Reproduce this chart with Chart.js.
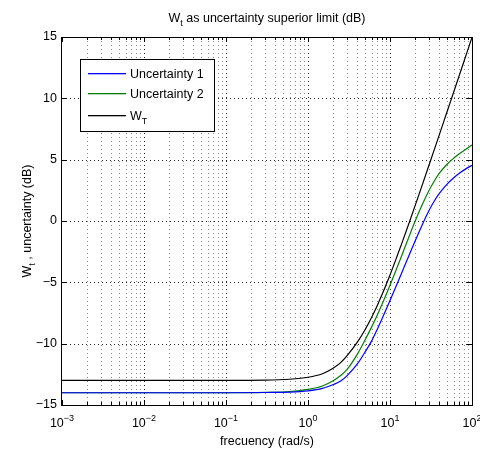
<!DOCTYPE html>
<html>
<head>
<meta charset="utf-8">
<script src="https://cdn.jsdelivr.net/npm/chart.js@4"></script>
<style>
  html, body { margin: 0; padding: 0; background: #fff; }
</style>
</head>
<body>
<canvas id="myChart" width="480" height="453"></canvas>
<script>
const freq = [0.001, 0.01, 0.1, 0.3, 0.6, 1, 1.5, 2, 2.5, 3, 4, 5, 6, 7, 8, 10, 12, 14, 17, 20, 25, 30, 35, 40, 50, 60, 70, 85, 100];
// magnitudes in dB
const uncert1 = [-14.0, -14.0, -14.0, -13.98, -13.95, -13.85, -13.65, -13.35, -13.05, -12.6, -11.65, -10.65, -9.75, -8.82, -7.96, -6.49, -5.24, -4.17, -2.83, -1.71, -0.24, 0.87, 1.67, 2.25, 3.03, 3.53, 3.89, 4.27, 4.54];
const uncert2 = [-14.0, -14.0, -14.0, -13.97, -13.9, -13.73, -13.45, -13.05, -12.6, -12.1, -10.85, -9.66, -8.61, -7.66, -6.79, -5.24, -3.91, -2.77, -1.3, -0.1, 1.4, 2.5, 3.3, 3.9, 4.65, 5.13, 5.48, 5.87, 6.2];
const wT = [-13.0, -13.0, -13.0, -12.98, -12.9, -12.74, -12.45, -12.03, -11.55, -10.98, -9.88, -8.82, -7.82, -6.88, -6.0, -4.4, -3.0, -1.78, -0.2, 1.15, 3.03, 4.58, 5.9, 7.04, 8.97, 10.54, 11.87, 13.56, 14.97];

// ticks
const xDecades = [0.001, 0.01, 0.1, 1, 10, 100];
const xDecadeExp = ['\u22123', '\u22122', '\u22121', '0', '1', '2'];
const yTicks = [-15, -10, -5, 0, 5, 10, 15];

const seriesNames = ['Uncertainty 1', 'Uncertainty 2', 'W'];
const seriesColors = ['rgb(0, 0, 255)', 'rgb(0, 128, 0)', 'rgb(0, 0, 0)'];

const FONT = '"Liberation Sans", Arial, Helvetica, sans-serif';
const FS = 12.5;    // font principale
const FS_SMALL = 9; // pedici / esponenti

function punti(ys) {
  return freq.map((f, i) => ({ x: f, y: ys[i] }));
}

// posizioni griglia minore: 1..9 per ogni decade
const xGrid = [];
for (let d = 0; d < xDecades.length - 1; d++) {
  for (let k = 1; k <= 9; k++) xGrid.push({ v: k * xDecades[d], major: k === 1 });
}
xGrid.push({ v: 100, major: true });

// testo con pedice: main + sub (abbassato) + rest
function drawSub(ctx, x, y, main, sub, rest, align) {
  ctx.font = FS + 'px ' + FONT;
  const w1 = ctx.measureText(main).width;
  const w3 = ctx.measureText(rest).width;
  ctx.font = FS_SMALL + 'px ' + FONT;
  const w2 = ctx.measureText(sub).width;
  let x0 = x;
  if (align === 'center') x0 = x - (w1 + w2 + w3) / 2;
  ctx.textAlign = 'left';
  ctx.textBaseline = 'alphabetic';
  ctx.font = FS + 'px ' + FONT;
  ctx.fillText(main, x0, y);
  ctx.font = FS_SMALL + 'px ' + FONT;
  ctx.fillText(sub, x0 + w1, y + 4);
  ctx.font = FS + 'px ' + FONT;
  ctx.fillText(rest, x0 + w1 + w2, y);
}

const matlabLook = {
  id: 'matlabLook',
  beforeDatasetsDraw(chart) {
    const { ctx, chartArea: a, scales: { x, y } } = chart;
    ctx.save();
    ctx.lineWidth = 1;
    ctx.setLineDash([1, 3]);
    xGrid.forEach(g => {
      const px = Math.round(x.getPixelForValue(g.v)) + 0.5;
      if (px <= a.left + 1 || px >= a.right - 1) return;
      ctx.strokeStyle = g.major ? '#222' : '#888';
      ctx.beginPath();
      ctx.moveTo(px, a.top);
      ctx.lineTo(px, a.bottom);
      ctx.stroke();
    });
    yTicks.slice(1, -1).forEach(v => {
      const py = Math.round(y.getPixelForValue(v)) + 0.5;
      ctx.strokeStyle = '#222';
      ctx.beginPath();
      ctx.moveTo(a.left, py);
      ctx.lineTo(a.right, py);
      ctx.stroke();
    });
    ctx.restore();
  },
  afterDatasetsDraw(chart) {
    const { ctx, chartArea: a, scales: { x, y } } = chart;
    ctx.save();
    ctx.setLineDash([]);
    ctx.strokeStyle = '#000';
    ctx.lineWidth = 1;
    // ticks interni
    xGrid.forEach(g => {
      const px = Math.round(x.getPixelForValue(g.v)) + 0.5;
      const len = g.major ? 5 : 3;
      ctx.beginPath();
      ctx.moveTo(px, a.bottom);
      ctx.lineTo(px, a.bottom - len);
      ctx.moveTo(px, a.top);
      ctx.lineTo(px, a.top + len);
      ctx.stroke();
    });
    yTicks.forEach(v => {
      const py = Math.round(y.getPixelForValue(v)) + 0.5;
      ctx.beginPath();
      ctx.moveTo(a.left, py);
      ctx.lineTo(a.left + 5, py);
      ctx.moveTo(a.right, py);
      ctx.lineTo(a.right - 5, py);
      ctx.stroke();
    });
    // box
    ctx.strokeRect(a.left - 0.5, a.top + 0.5, a.right - a.left + 1, a.bottom - a.top);
    ctx.restore();
  },
  afterDraw(chart) {
    const { ctx, chartArea: a, scales: { x } } = chart;
    ctx.save();

    // legenda
    const lx = a.left + 19, ly = a.top + 22, lw = 134, lh = 72;
    ctx.fillStyle = '#fff';
    ctx.fillRect(lx, ly, lw, lh);
    ctx.lineWidth = 1;
    ctx.strokeStyle = '#000';
    ctx.strokeRect(lx - 0.5, ly + 0.5, lw, lh);
    const rows = [13.7, 34.3, 56];
    rows.forEach((r, i) => {
      const cy = Math.round(ly + r);
      ctx.fillStyle = seriesColors[i];
      ctx.fillRect(lx + 7, cy, 38, 1.3);
      ctx.fillStyle = '#000';
      if (i < 2) {
        ctx.font = FS + 'px ' + FONT;
        ctx.textAlign = 'left';
        ctx.textBaseline = 'alphabetic';
        ctx.fillText(seriesNames[i], lx + 49, cy + 5);
      } else {
        drawSub(ctx, lx + 49, cy + 5, seriesNames[i], 'T', '', 'left');
      }
    });

    ctx.fillStyle = '#000';
    const cx = (a.left + a.right) / 2;
    // titolo
    drawSub(ctx, cx, 22, 'W', 't', ' as uncertainty superior limit (dB)', 'center');
    // etichette asse x 10^n
    xDecades.forEach((v, i) => {
      const px = x.getPixelForValue(v);
      ctx.font = FS + 'px ' + FONT;
      const w1 = ctx.measureText('10').width;
      ctx.font = FS_SMALL + 'px ' + FONT;
      const w2 = ctx.measureText(xDecadeExp[i]).width;
      const x0 = px - (w1 + w2) / 2;
      ctx.textAlign = 'left';
      ctx.textBaseline = 'alphabetic';
      ctx.font = FS + 'px ' + FONT;
      ctx.fillText('10', x0, 427);
      ctx.font = FS_SMALL + 'px ' + FONT;
      ctx.fillText(xDecadeExp[i], x0 + w1, 421);
    });
    // titolo asse x
    ctx.font = FS + 'px ' + FONT;
    ctx.textAlign = 'center';
    ctx.fillText('frecuency (rad/s)', cx, 445);
    // titolo asse y (ruotato)
    ctx.translate(31, (a.top + a.bottom) / 2);
    ctx.rotate(-Math.PI / 2);
    drawSub(ctx, 0, 0, 'W', 't', ' , uncertainty (dB)', 'center');
    ctx.restore();
  }
};

new Chart('myChart', {
  type: 'line',
  data: {
    datasets: [
      { label: 'Uncertainty 1', data: punti(uncert1), borderColor: seriesColors[0] },
      { label: 'Uncertainty 2', data: punti(uncert2), borderColor: seriesColors[1] },
      { label: 'WT', data: punti(wT), borderColor: seriesColors[2] }
    ].map(d => Object.assign(d, { borderWidth: 1.2, pointRadius: 0, fill: false, cubicInterpolationMode: 'monotone' }))
  },
  options: {
    responsive: false,
    animation: false,
    devicePixelRatio: 1,
    layout: { padding: { top: 37, right: 8, left: 0, bottom: 0 } },
    plugins: { legend: { display: false }, title: { display: false }, tooltip: { enabled: false } },
    scales: {
      x: {
        type: 'logarithmic',
        min: 0.001,
        max: 100,
        ticks: { display: false },
        grid: { display: false },
        border: { display: false },
        afterFit(s) { s.height = 48; }
      },
      y: {
        type: 'linear',
        min: -15,
        max: 15,
        afterBuildTicks(s) { s.ticks = yTicks.map(v => ({ value: v })); },
        ticks: {
          color: '#000',
          padding: 5,
          font: { family: FONT, size: FS },
          callback: v => (v < 0 ? '\u2212' + (-v) : '' + v)
        },
        grid: { display: false, drawTicks: false },
        border: { display: false },
        afterFit(s) { s.width = 62; }
      }
    }
  },
  plugins: [matlabLook]
});
</script>
</body>
</html>
